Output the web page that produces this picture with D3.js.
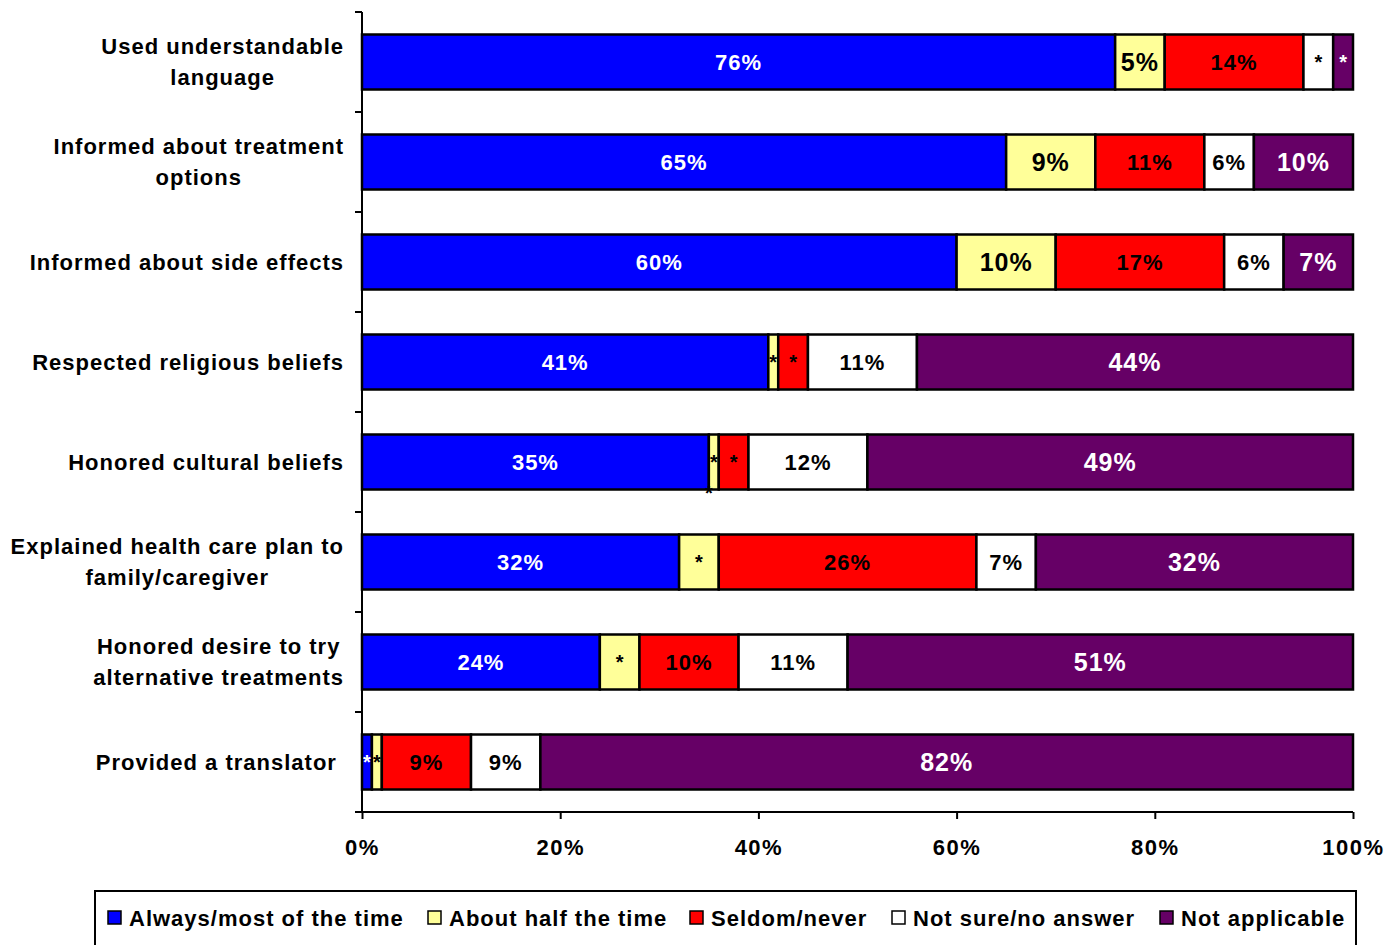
<!DOCTYPE html>
<html>
<head>
<meta charset="utf-8">
<script src="https://cdn.jsdelivr.net/npm/d3@7"></script>
<style>
  body { margin: 0; background: #fff; }
  svg text { font-family: "Liberation Sans", Arial, sans-serif; font-weight: bold; letter-spacing: 1px; }
</style>
</head>
<body>
<div id="chart"></div>
<script>
// categories, top to bottom
var categories = [
    ["Used understandable", "language"],
    ["Informed about treatment", "options"],
    ["Informed about side effects"],
    ["Respected religious beliefs"],
    ["Honored cultural beliefs"],
    ["Explained health care plan to", "family/caregiver"],
    ["Honored desire to try", "alternative treatments"],
    ["Provided a translator\u00a0"]
];

var seriesNames = ["Always/most of the time", "About half the time", "Seldom/never", "Not sure/no answer", "Not applicable"];
var seriesColors = ["#0000ff", "#ffff99", "#ff0000", "#ffffff", "#660066"];
var labelColors = ["#fff", "#000", "#000", "#000", "#fff"];
var labelSizes = [22, 25, 22, 22, 25];

// bar widths (percent)
var always  = [76, 65, 60, 41, 35, 32, 24, 1];
var half    = [5, 9, 10, 1, 1, 4, 4, 1];
var seldom  = [14, 11, 17, 3, 3, 26, 10, 9];
var notSure = [3, 5, 6, 11, 12, 6, 11, 7];
var notApp  = [2, 10, 7, 44, 49, 32, 51, 82];

// printed labels
var alwaysLbl  = ["76%", "65%", "60%", "41%", "35%", "32%", "24%", "*"];
var halfLbl    = ["5%", "9%", "10%", "*", "*", "*", "*", "*"];
var seldomLbl  = ["14%", "11%", "17%", "*", "*", "26%", "10%", "9%"];
var notSureLbl = ["*", "6%", "6%", "11%", "12%", "7%", "11%", "9%"];
var notAppLbl  = ["*", "10%", "7%", "44%", "49%", "32%", "51%", "82%"];

var xTicks = [0, 20, 40, 60, 80, 100];

var values = [always, half, seldom, notSure, notApp];
var labels = [alwaysLbl, halfLbl, seldomLbl, notSureLbl, notAppLbl];

var W = 1385, H = 945;
var margin = {top: 12, right: 32, bottom: 133, left: 362};

var svg = d3.select("#chart").append("svg")
    .attr("width", W)
    .attr("height", H);

var x = d3.scaleLinear().domain([0, 100]).range([margin.left, W - margin.right]);
var y = d3.scaleBand()
    .domain(d3.range(categories.length))
    .range([margin.top, H - margin.bottom])
    .paddingInner(0.45)
    .paddingOuter(0.225);

// stack rows
var rows = categories.map(function(c, i) {
    var x0 = 0;
    return values.map(function(s, k) {
        var seg = {row: i, k: k, x0: x0, x1: x0 + s[i], label: labels[k][i]};
        x0 += s[i];
        return seg;
    });
});
var segs = [].concat.apply([], rows);

svg.selectAll("rect.seg")
    .data(segs)
    .enter()
    .append("rect")
        .attr("class", "seg")
        .attr("x", function(d) { return x(d.x0); })
        .attr("y", function(d) { return y(d.row); })
        .attr("width", function(d) { return x(d.x1) - x(d.x0); })
        .attr("height", y.bandwidth())
        .style("fill", function(d) { return seriesColors[d.k]; })
        .style("stroke", "#000")
        .style("stroke-width", 2.5);

svg.selectAll("text.val")
    .data(segs)
    .enter()
    .append("text")
        .attr("class", "val")
        .attr("x", function(d) { return (x(d.x0) + x(d.x1)) / 2; })
        .attr("y", function(d) { return y(d.row) + y.bandwidth() / 2; })
        .attr("dy", "0.36em")
        .attr("text-anchor", "middle")
        .style("font-size", function(d) { return (d.label == "*" ? 20 : labelSizes[d.k]) + "px"; })
        .style("letter-spacing", function(d) { return d.label == "*" ? "0px" : "1px"; })
        .style("fill", function(d) { return labelColors[d.k]; })
        .text(function(d) { return d.label; });

// stray asterisk under "Honored cultural beliefs"
svg.append("text")
    .attr("x", x(always[4]))
    .attr("y", y(4) + y.bandwidth() + 10)
    .attr("text-anchor", "middle")
    .style("font-size", "20px")
    .style("letter-spacing", "0px")
    .text("*");

// y axis
var yAxis = svg.append("g");
yAxis.append("line")
    .attr("x1", x(0)).attr("x2", x(0))
    .attr("y1", margin.top).attr("y2", H - margin.bottom)
    .style("stroke", "#000").style("stroke-width", 2);
yAxis.selectAll("line.tick")
    .data(d3.range(categories.length + 1))
    .enter()
    .append("line")
        .attr("x1", x(0) - 7).attr("x2", x(0))
        .attr("y1", function(d) { return margin.top + d * y.step(); })
        .attr("y2", function(d) { return margin.top + d * y.step(); })
        .style("stroke", "#000").style("stroke-width", 2);

// category labels
var catG = svg.selectAll("g.cat")
    .data(categories)
    .enter()
    .append("g")
        .attr("class", "cat");
catG.each(function(lines, i) {
    var g = d3.select(this);
    var lh = 31;
    var cy = y(i) + y.bandwidth() / 2;
    var t = g.selectAll("text")
        .data(lines)
        .enter()
        .append("text")
            .attr("y", function(d, j) { return cy + (j - (lines.length - 1) / 2) * lh; })
            .attr("dy", "0.36em")
            .style("font-size", "22px")
            .text(function(d) { return d; });
    var maxW = d3.max(t.nodes(), function(n) { return n.getComputedTextLength(); });
    t.attr("x", x(0) - 18 - maxW / 2).attr("text-anchor", "middle");
});

// x axis
var xAxis = svg.append("g")
    .attr("transform", "translate(0," + (H - margin.bottom) + ")")
    .call(d3.axisBottom(x).tickValues(xTicks).tickSize(7).tickPadding(20)
        .tickFormat(function(d) { return d + "%"; }));
xAxis.select(".domain").style("stroke-width", 2).attr("d", "M" + (x(0) - 7) + ",0H" + x(100));
xAxis.selectAll(".tick line").style("stroke-width", 2);
xAxis.selectAll(".tick text")
    .style("font-size", "22px")
    .style("font-family", "'Liberation Sans', Arial, sans-serif")
    .style("font-weight", "bold")
    .style("letter-spacing", "1.5px")
    .style("fill", "#000");

// legend
svg.append("rect")
    .attr("x", 95).attr("y", 891)
    .attr("width", 1261).attr("height", 70)
    .style("fill", "none").style("stroke", "#000").style("stroke-width", 2);

var legendX = [108, 428, 690, 892, 1160];
var leg = svg.selectAll("g.leg")
    .data(seriesNames)
    .enter()
    .append("g")
        .attr("class", "leg")
        .attr("transform", function(d, i) { return "translate(" + legendX[i] + ",911)"; });
leg.append("rect")
    .attr("width", 13).attr("height", 13)
    .style("fill", function(d, i) { return seriesColors[i]; })
    .style("stroke", "#000").style("stroke-width", 1.5);
leg.append("text")
    .attr("x", 21).attr("y", 7)
    .attr("dy", "0.36em")
    .style("font-size", "22px")
    .text(function(d) { return d; });
</script>
</body>
</html>
